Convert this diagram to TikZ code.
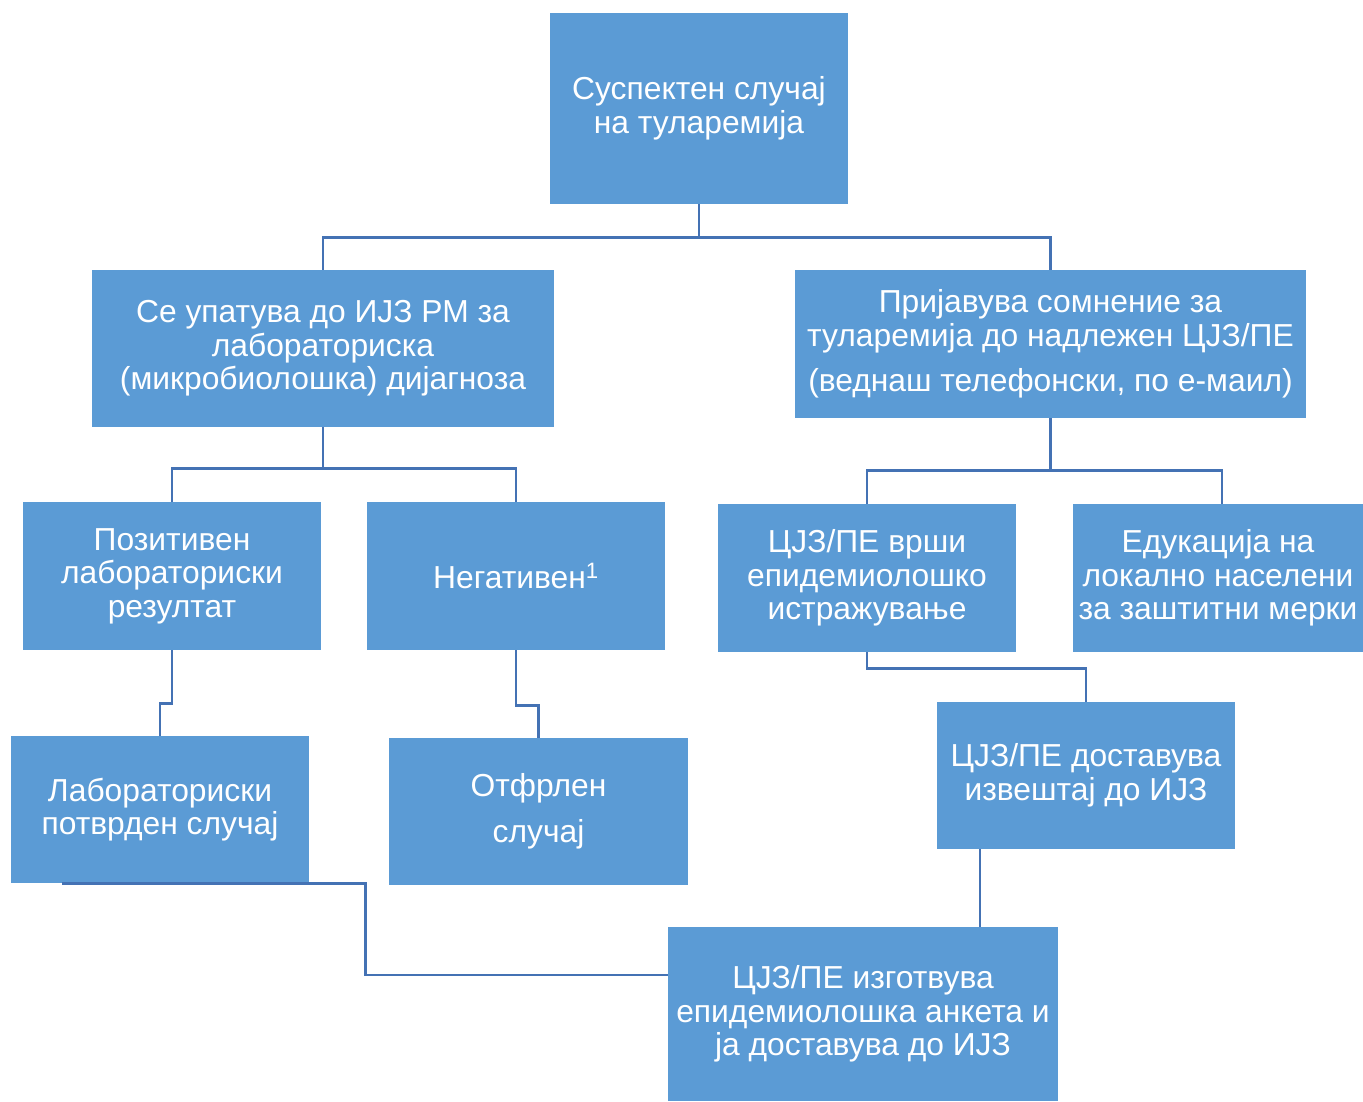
\documentclass[tikz,border=0pt]{standalone}
\usepackage{fontspec}
\setmainfont{Liberation Sans}
\usetikzlibrary{calc}
\definecolor{boxblue}{RGB}{91,155,213}
\definecolor{lineblue}{RGB}{68,114,180}
\tikzset{
  box/.style={rectangle, fill=boxblue, text=white, align=center, inner sep=0pt,
    font=\fontsize{31.8}{33.5}\selectfont},
  conn/.style={draw=lineblue, line width=2.8pt}
}
\begin{document}
\begin{tikzpicture}[x=1pt,y=-1pt]
\path[use as bounding box, fill=white] (0,0) rectangle (1363,1101);
\node[box, minimum width=298pt, minimum height=191pt] (top) at (699,108.5) {Суспектен случај\\на туларемија};
\node[box, minimum width=462pt, minimum height=157pt] (left) at (323,348.5) {Се упатува до ИЈЗ РМ за\\лабораториска\\(микробиолошка) дијагноза};
\node[box, minimum width=511pt, minimum height=148pt] (right) at (1050.5,344) {Пријавува сомнение за\\туларемија до надлежен ЦЈЗ/ПЕ\\[12pt](веднаш телефонски, по е-маил)};
\node[box, minimum width=298pt, minimum height=148pt] (pos) at (172,576) {Позитивен\\лабораториски\\резултат};
\node[box, minimum width=298pt, minimum height=148pt] (neg) at (516,576) {Негативен\textsuperscript{1}};
\node[box, minimum width=298pt, minimum height=148pt] (epid) at (867,578) {ЦЈЗ/ПЕ врши\\епидемиолошко\\истражување};
\node[box, minimum width=290pt, minimum height=148pt] (edu) at (1218,578) {Едукација на\\локално населени\\за заштитни мерки};
\node[box, minimum width=298pt, minimum height=147pt] (lab) at (160,809.5) {Лабораториски\\потврден случај};
\node[box, minimum width=299pt, minimum height=147pt] (rej) at (538.5,811.5) {Отфрлен\\[13pt]случај};
\node[box, minimum width=298pt, minimum height=147pt] (report) at (1086,775.5) {ЦЈЗ/ПЕ доставува\\извештај до ИЈЗ};
\node[box, minimum width=390pt, minimum height=174pt] (bottom) at (863,1014) {ЦЈЗ/ПЕ изготвува\\епидемиолошка анкета и\\ја доставува до ИЈЗ};
% connectors
\draw[conn] (top.south) -- ++(0,33) -| (left.north);
\draw[conn] (top.south) -- ++(0,33) -| (right.north);
\draw[conn] (left.south) -- ++(0,41) -| (pos.north);
\draw[conn] (left.south) -- ++(0,41) -| (neg.north);
\draw[conn] (right.south) -- ++(0,52) -| (epid.north);
\draw[conn] (right.south) -- ++(0,52) -| ([xshift=4pt]edu.north);
\draw[conn] (pos.south) -- ++(0,53) -| (lab.north);
\draw[conn] (neg.south) -- ++(0,55) -| (rej.north);
\draw[conn] (epid.south) -- ++(0,16) -| (report.north);
\draw[conn] ([xshift=-106pt]report.south) -- ([xshift=-106pt]report.south |- bottom.north);
\draw[conn] ([xshift=-98pt]lab.south) -| ($(lab.south east)+(56,0)$) |- ([yshift=39pt]bottom.west);
\end{tikzpicture}
\end{document}
